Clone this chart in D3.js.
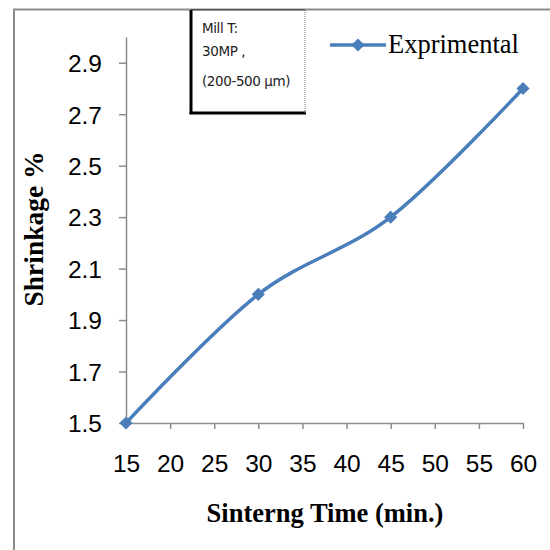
<!DOCTYPE html>
<html>
<head>
<meta charset="utf-8">
<script src="https://cdn.jsdelivr.net/npm/d3@7"></script>
<style>
  body { margin: 0; background: #fff; }
  svg { display: block; }
</style>
</head>
<body>
<svg width="550" height="550"></svg>
<script>
// data
const times     = [15, 30, 45, 60];
const shrinkage = [1.5, 2.0, 2.3, 2.8];
const xTicks    = [15, 20, 25, 30, 35, 40, 45, 50, 55, 60];
const yTicks    = [1.5, 1.7, 1.9, 2.1, 2.3, 2.5, 2.7, 2.9];
const noteLines = ["Mill T:", "30MP ,", "(200-500 µm)"];
const seriesName = "Exprimental";

const svg  = d3.select("svg");
const blue = "#4a7ebb";

// outer frame (runs off right / bottom edge)
svg.append("rect")
    .attr("x", 14).attr("y", 9.5)
    .attr("width", 560).attr("height", 560)
    .attr("fill", "none")
    .attr("stroke", "#8c8c8c")
    .attr("stroke-width", 2);

const x = d3.scaleLinear().domain([15, 60]).range([126, 523]);
const y = d3.scaleLinear().domain([1.5, 3.0]).range([423, 37]);

const xAxis = svg.append("g")
    .attr("transform", "translate(0,423)")
    .call(d3.axisBottom(x).tickValues(xTicks).tickSize(6).tickSizeOuter(0).tickPadding(26));

const yAxis = svg.append("g")
    .attr("transform", "translate(126,0)")
    .call(d3.axisLeft(y).tickValues(yTicks).tickFormat(d3.format(".1f")).tickSize(7).tickSizeOuter(0).tickPadding(17));

[xAxis, yAxis].forEach(ax => {
    ax.select(".domain").attr("stroke", "#8c8c8c").attr("stroke-width", 1.5);
    ax.selectAll(".tick line").attr("stroke", "#8c8c8c").attr("stroke-width", 1.5);
    ax.selectAll("text")
        .attr("fill", "#000")
        .style("font-family", "Liberation Sans, Arial, sans-serif")
        .style("font-size", "24.5px");
});
xAxis.selectAll(".tick").filter(d => d === 15).select("line").remove();
yAxis.selectAll("text").attr("dy", "0.36em");

// axis titles
svg.append("text")
    .attr("x", 325).attr("y", 522)
    .attr("text-anchor", "middle")
    .style("font-family", "Liberation Serif, Times New Roman, serif")
    .style("font-weight", "bold")
    .style("font-size", "26.5px")
    .text("Sinterng Time (min.)");

svg.append("text")
    .attr("transform", "translate(43,229) rotate(-90)")
    .attr("text-anchor", "middle")
    .style("font-family", "Liberation Serif, Times New Roman, serif")
    .style("font-weight", "bold")
    .style("font-size", "27.5px")
    .text("Shrinkage %");

// series
const points = times.map((t, i) => [t, shrinkage[i]]);

const line = d3.line()
    .x(d => x(d[0]))
    .y(d => y(d[1]))
    .curve(d3.curveCardinal.tension(0));

svg.append("path")
    .datum(points)
    .attr("fill", "none")
    .attr("stroke", blue)
    .attr("stroke-width", 3.5)
    .attr("d", line);

const diamond = d3.symbol().type(d3.symbolDiamond2).size(110);

svg.append("g")
    .selectAll("path")
    .data(points)
    .enter().append("path")
        .attr("transform", d => "translate(" + x(d[0]) + "," + y(d[1]) + ")")
        .attr("d", diamond)
        .attr("fill", blue);

// legend
const legend = svg.append("g").attr("transform", "translate(330,45)");
legend.append("line")
    .attr("x1", 0).attr("x2", 56)
    .attr("stroke", blue).attr("stroke-width", 3.5);
legend.append("path")
    .attr("transform", "translate(28,0)")
    .attr("d", diamond)
    .attr("fill", blue);
legend.append("text")
    .attr("x", 58).attr("y", 8)
    .style("font-family", "Liberation Serif, Times New Roman, serif")
    .style("font-size", "26.5px")
    .text(seriesName);

// note box
const note = svg.append("g").attr("transform", "translate(191,10)");
note.append("rect")
    .attr("x", 0).attr("y", 0)
    .attr("width", 114).attr("height", 103)
    .attr("fill", "#fff");
note.append("line").attr("x1", 0).attr("y1", 0).attr("x2", 114).attr("y2", 0)
    .attr("stroke", "#222").attr("stroke-width", 1);
note.append("line").attr("x1", 0).attr("y1", 0).attr("x2", 0).attr("y2", 104)
    .attr("stroke", "#000").attr("stroke-width", 3);
note.append("line").attr("x1", -1.5).attr("y1", 103).attr("x2", 115).attr("y2", 103)
    .attr("stroke", "#000").attr("stroke-width", 3);
note.append("line").attr("x1", 114).attr("y1", 0).attr("x2", 114).attr("y2", 103)
    .attr("stroke", "#777").attr("stroke-width", 1)
    .attr("stroke-dasharray", "1,1");

note.selectAll("text")
    .data(noteLines)
    .enter().append("text")
        .attr("x", 11)
        .attr("y", (d, i) => [23, 46, 76][i])
        .style("font-family", "DejaVu Sans, sans-serif")
        .style("font-size", "13.5px")
        .style("letter-spacing", "-0.4px")
        .attr("fill", "#222")
        .text(d => d);
</script>
</body>
</html>
